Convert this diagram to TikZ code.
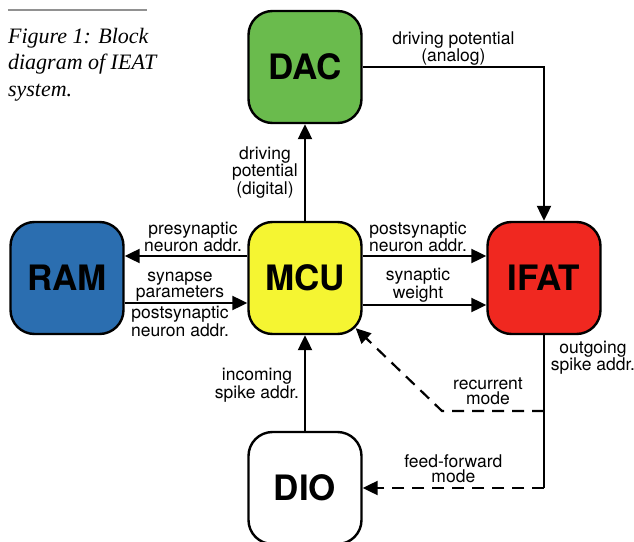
\documentclass[tikz,border=0pt]{standalone}
\usepackage{fontspec}
\setmainfont{TeX Gyre Heros}
\newfontfamily\capfont{Liberation Serif}
\usetikzlibrary{positioning, arrows.meta}

\definecolor{dacgreen}{RGB}{106,187,77}
\definecolor{ramblue}{RGB}{43,110,176}
\definecolor{mcuyellow}{RGB}{245,245,50}
\definecolor{ifatred}{RGB}{240,40,32}
\definecolor{rulegray}{RGB}{145,145,145}

\begin{document}
\begin{tikzpicture}[x=1pt, y=1pt, on grid, line width=2.2pt,
    >={Triangle[length=15pt, width=14pt]},
    block/.style={draw, line width=2.4pt, rounded corners=24pt, minimum width=113pt,
      minimum height=112pt, font=\fontsize{35}{35}\selectfont\bfseries},
    lbl/.style={font=\fontsize{17.5}{15}\selectfont, align=center, inner sep=0pt},
    dashline/.style={dash pattern=on 12pt off 8pt}]
   \useasboundingbox (-305,-263) rectangle (329,278);
   \clip (-305,-263) rectangle (329,278);

   % Caption and rule
   \draw[rulegray, line width=1.8pt] (-297,268) -- (-158,268);
   \node[anchor=north west, inner sep=0pt, align=left,
     font=\capfont\itshape\fontsize{22}{26.5}\selectfont] (caption) at (-298,251)
     {Figure 1: Block\\diagram of IEAT\\system.};

   % Blocks
   \node[block, fill=mcuyellow] (mcu) {MCU};
   \node[block, fill=ramblue] (ram) [left=238pt of mcu] {RAM};
   \node[block, fill=ifatred] (ifat) [right=239pt of mcu] {IFAT};
   \node[block, fill=dacgreen] (dac) [above=211pt of mcu] {DAC};
   \node[block, fill=white] (dio) [below=210pt of mcu] {DIO};

   % Branch points
   \coordinate (rec) at ([yshift=-133pt]ifat.center);
   \coordinate (recbend) at ([xshift=-102pt]rec);
   \coordinate (ff) at (ifat |- dio);
   \coordinate (mcucorner) at ([shift={(-7pt,7pt)}]mcu.south east);

   % Transitions
   \path[->]
    (mcu) edge node[lbl, xshift=-40pt] {driving\\potential\\(digital)} (dac)
    ([yshift=22pt]mcu.west) edge node[lbl, xshift=7pt, yshift=19pt] {presynaptic\\neuron addr.} ([yshift=22pt]ram.east)
    ([yshift=-25pt]ram.east) edge node[lbl, xshift=-6pt, yshift=16.5pt] {synapse\\parameters}
                                  node[lbl, xshift=-6pt, yshift=-18.5pt] {postsynaptic\\neuron addr.} ([yshift=-25pt]mcu.west)
    ([yshift=22pt]mcu.east) edge node[lbl, xshift=-6.5pt, yshift=19pt] {postsynaptic\\neuron addr.} ([yshift=22pt]ifat.west)
    ([yshift=-27pt]mcu.east) edge node[lbl, xshift=-6.5pt, yshift=19.5pt] {synaptic\\weight} ([yshift=-27pt]ifat.west)
    (dio) edge node[lbl, xshift=-48pt, yshift=-2pt] {incoming\\spike addr.} (mcu);

   \draw[->] (dac) -| node[lbl, pos=0.25, yshift=18.5pt] {driving potential\\(analog)} (ifat);

   % Spike output
   \draw (ifat) -- node[lbl, xshift=49pt, yshift=15.5pt] {outgoing\\spike addr.} (rec) -- (ff);
   \draw[->, dashline] (rec) -- node[lbl, xshift=-5pt, yshift=19.5pt] {recurrent\\mode} (recbend) -- (mcucorner);
   \draw[->, dashline] (ff) -- node[lbl, yshift=19.5pt] {feed-forward\\mode} (dio);
\end{tikzpicture}
\end{document}
